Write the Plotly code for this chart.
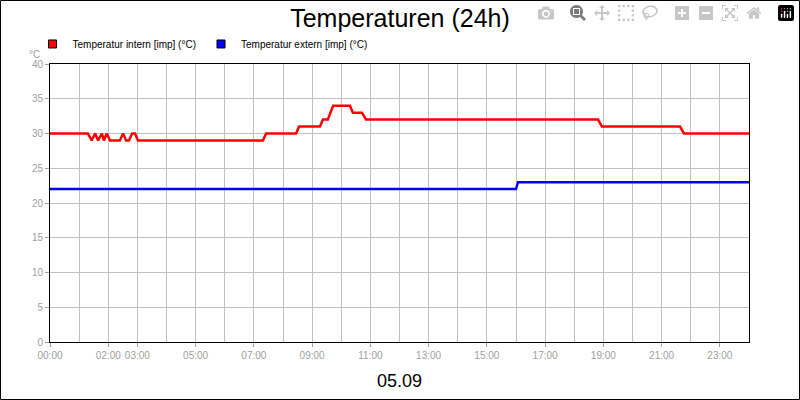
import plotly.graph_objects as go

# hours of day and temperatures (°C)
intern_h = [0, 1.30, 1.43, 1.55, 1.65, 1.78, 1.85, 1.95, 2.06, 2.40, 2.51, 2.61, 2.71, 2.82, 2.92, 3.02,
            7.31, 7.42, 8.45, 8.55, 9.27, 9.37, 9.54, 9.72, 10.30, 10.40, 10.71, 10.85,
            18.82, 18.95, 21.63, 21.77, 24]
intern_t = [30, 30, 29, 30, 29, 30, 29, 30, 29, 29, 30, 29, 29, 30, 30, 29,
            29, 30, 30, 31, 31, 32, 32, 34, 34, 33, 33, 32,
            32, 31, 31, 30, 30]
extern_h = [0, 16.0, 16.07, 24]
extern_t = [22, 22, 23, 23]
tick_hours = [0, 2, 3, 5, 7, 9, 11, 13, 15, 17, 19, 21, 23]
tick_labels = ["%02d:00" % h for h in tick_hours]

fig = go.Figure()
fig.add_trace(go.Scatter(x=intern_h, y=intern_t, mode="lines", line=dict(color="#ff0000", width=2.5),
                         showlegend=False))
fig.add_trace(go.Scatter(x=extern_h, y=extern_t, mode="lines", line=dict(color="#0000ff", width=2.5),
                         showlegend=False))
# legend entries with square markers
for name, col in [("Temperatur intern [imp] (°C)", "#ff0000"), ("Temperatur extern [imp] (°C)", "#0000ff")]:
    fig.add_trace(go.Scatter(x=[None], y=[None], mode="markers", name=name,
                             marker=dict(symbol="square", size=8, color=col, line=dict(color="black", width=1))))

fig.update_layout(
    width=800, height=400, paper_bgcolor="white", plot_bgcolor="white",
    margin=dict(l=50, r=51, t=64, b=58),
    font=dict(family="Liberation Sans", size=10, color="black"),
    title=dict(text="Temperaturen (24h)", x=0.5, xanchor="center", y=0.955, yanchor="middle",
               font=dict(size=25, color="black")),
    legend=dict(orientation="h", x=-0.025, xanchor="left", y=1.072, yanchor="middle",
                font=dict(size=10), itemwidth=30, tracegroupgap=0),
    xaxis=dict(range=[0, 24], tickvals=tick_hours, ticktext=tick_labels, showgrid=False, tickangle=0,
               minor=dict(dtick=1, tick0=0, showgrid=True, gridcolor="#c0c0c0", gridwidth=1),
               tickfont=dict(color="#a0a0a0", size=10), showline=True, linecolor="black", mirror=True,
               ticks="outside", ticklen=4, tickcolor="#a0a0a0", zeroline=False,
               title=dict(text="05.09", font=dict(size=18, color="black"), standoff=14)),
    yaxis=dict(range=[0, 40], dtick=5, gridcolor="#c0c0c0", showline=True, linecolor="black", mirror=True,
               tickfont=dict(color="#a0a0a0", size=10), ticks="outside", ticklen=4, tickcolor="#a0a0a0",
               zeroline=False),
)
fig.add_annotation(text="°C", xref="paper", yref="paper", x=-0.012, y=1.062, showarrow=False,
                   xanchor="right", font=dict(size=10, color="#a0a0a0"))
fig.add_shape(type="rect", xref="paper", yref="paper", x0=-49.5/699, x1=1 + 50.5/699, y0=-57.5/278, y1=1 + 63.5/278,
              line=dict(color="black", width=1))
fig.write_html("out.html", post_script="document.body.style.margin='0';")
